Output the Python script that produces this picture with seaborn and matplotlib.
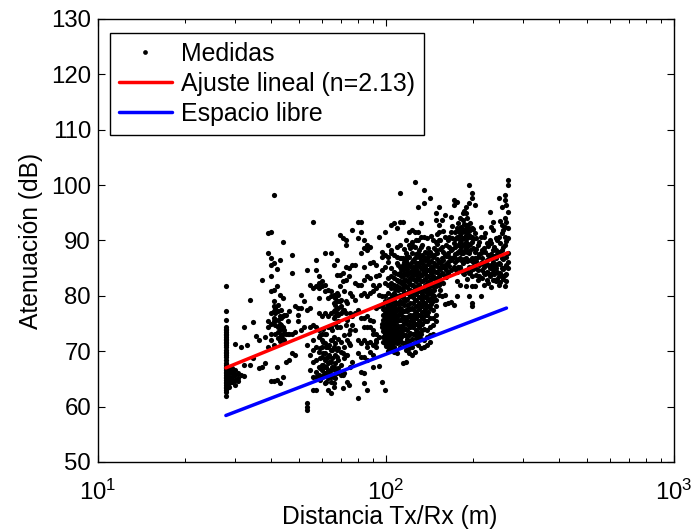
"""Atenuacion frente a distancia Tx/Rx: medidas, ajuste lineal y espacio libre."""

import matplotlib
matplotlib.use("Agg")
import matplotlib.pyplot as plt
import pandas as pd
import seaborn as sns
from matplotlib.lines import Line2D
from matplotlib.ticker import LogLocator, NullFormatter


DIST_LEFT = [27.8, 28.5, 29.2, 29.9, 30.6, 31.3, 32.1, 32.9, 33.7, 34.5, 35.3, 36.2, 37.1, 38.0,
             38.9, 39.8, 40.8, 41.8, 42.8, 43.8, 44.9, 46.0, 47.1, 48.2, 49.4, 50.6, 51.8, 53.1,
             54.4, 55.7, 57.0, 58.4, 59.8, 61.3, 62.8, 64.3, 65.9, 67.5, 69.1, 70.8, 72.5, 74.3,
             76.1, 77.9, 79.8]
ATT_LEFT = [
    [81.7, 77.3, 75.7, 74.4, 74.1, 73.8, 73.5, 73.2, 72.9, 72.6, 72.3, 72.0, 71.7, 71.4, 71.1, 70.8,
     70.2, 69.9, 69.6, 69.3, 69.0, 68.4, 67.8, 67.5, 67.2, 66.9, 66.6, 66.3, 66.0, 65.7, 65.4, 65.1,
     64.8, 64.5, 64.2, 63.9, 63.6, 63.3, 63.0, 62.7, 61.9],
    [67.2, 66.6, 66.0, 65.4, 65.1, 64.5, 64.2, 63.6],
    [66.9, 66.3, 66.0, 65.4, 64.8, 64.5],
    [71.3, 66.6, 65.7, 64.8, 63.9],
    [66.0, 65.1, 64.7],
    [70.8, 65.7],
    [74.4, 67.5, 65.5],
    [71.1],
    [79.3, 67.5],
    [75.2, 68.7],
    [72.8],
    [72.0, 66.9],
    [82.9, 67.2],
    [72.6, 67.8],
    [91.3, 87.7, 75.4, 74.4, 70.8],
    [91.6, 86.8, 85.6, 83.5, 80.8, 76.9, 75.0, 73.2, 72.0, 64.7],
    [98.2, 85.9, 81.1, 79.0, 78.1, 77.2, 76.0, 75.4, 71.1, 64.7],
    [84.8, 81.8, 67.2, 64.8],
    [86.5, 80.2, 76.3, 75.0, 73.8, 72.6, 71.8, 64.2],
    [89.8, 79.6, 76.3, 74.4, 73.2, 72.3, 65.4],
    [76.6, 73.2, 68.1],
    [77.2, 73.2, 68.4],
    [87.4, 84.1, 73.2, 69.6],
    [78.1, 73.5, 69.3],
    [77.8, 76.6, 75.4],
    [80.2, 77.8, 73.8],
    [79.1, 74.4],
    [84.6, 77.5, 71.1, 60.6, 60.0, 59.4],
    [82.0, 77.8, 74.4, 69.3, 66.6],
    [93.4, 81.4, 74.7, 72.0, 70.2, 68.1, 65.4, 63.0],
    [86.5, 84.7, 81.7, 74.4, 70.8, 68.4, 66.3, 65.4, 63.0],
    [83.5, 82.3, 81.4, 79.6, 76.9, 73.8, 72.6, 69.9, 67.2, 65.7],
    [82.6, 81.7, 76.3, 73.2, 72.0, 70.8, 69.0, 67.5, 66.6, 65.4],
    [87.7, 82.0, 80.8, 76.9, 73.2, 71.4, 69.6, 68.4, 67.2, 66.0, 64.2],
    [81.1, 79.6, 76.3, 74.4, 70.8, 69.0, 67.8, 66.6, 65.1, 63.0],
    [87.7, 80.8, 79.9, 76.9, 74.4, 72.0, 70.2, 68.1, 66.6, 65.4, 64.5, 62.4],
    [85.6, 80.2, 78.7, 77.2, 76.0, 72.6, 70.8, 67.2, 65.4, 64.2, 63.6],
    [86.5, 83.8, 80.5, 79.0, 76.9, 74.4, 70.2, 69.0, 66.0],
    [91.0, 83.8, 81.7, 79.0, 74.4],
    [90.4, 84.1, 82.6, 77.5, 69.6, 65.7, 63.3],
    [90.1, 89.2, 85.3, 82.9, 79.0, 76.9, 74.7, 69.3],
    [85.0, 83.5, 73.2, 71.4, 63.9],
    [91.9, 85.6, 79.9, 76.3, 74.7, 68.1],
    [85.6, 82.3, 79.3, 76.9, 73.8],
    [93.4, 90.4, 82.0, 77.5, 72.0, 69.6, 61.5],
]

DIST_MID = [81.8, 83.7, 85.8, 87.9, 90.0, 92.2, 94.4, 96.7, 99.0, 101.4, 103.9, 106.4, 109.0,
            111.7, 114.4, 117.2, 120.0, 122.9, 125.9, 129.0, 132.1, 135.3, 138.6, 142.0, 145.4,
            149.0, 152.6]
ATT_MID = [
    [93.4, 91.6, 87.7, 82.0, 80.2, 76.0, 71.4, 69.0, 66.3],
    [90.1, 88.6, 85.3, 82.9, 80.5, 76.0, 74.4, 72.0, 69.0, 66.0, 64.2],
    [89.2, 88.3, 83.5, 79.9, 76.3, 74.4, 71.4, 70.8, 68.4, 63.0],
    [88.9, 85.9, 83.2, 80.5, 75.7, 74.4, 71.7, 69.9],
    [86.2, 82.0, 80.8, 75.4, 73.8, 73.2, 71.1, 69.3, 67.2],
    [85.6, 83.5, 81.4, 77.8, 73.2, 72.0, 71.7, 70.8],
    [90.7, 83.8, 82.0, 80.2, 78.1, 72.6, 67.4],
    [88.0, 87.1, 84.7, 79.9, 78.4, 75.0, 74.4, 64.5],
    [91.6, 87.4, 85.3, 82.3, 79.9, 79.0, 76.9, 76.0, 75.0, 74.1, 73.2, 72.3, 71.4, 63.0],
    [89.2, 87.1, 86.2, 83.2, 82.0, 80.5, 78.4, 77.2, 76.3, 75.4, 74.4, 73.5, 72.6, 71.7, 71.1, 70.0],
    [92.8, 88.3, 87.7, 85.0, 83.5, 82.3, 81.4, 79.6, 77.8, 76.9, 76.0, 75.0, 74.1, 73.2, 72.3, 71.4,
     70.5],
    [93.1, 87.4, 84.4, 83.2, 82.0, 80.5, 79.0, 78.1, 77.2, 76.3, 75.4, 74.4, 73.5, 72.6, 71.7, 70.8,
     69.9],
    [92.2, 88.9, 87.1, 85.9, 82.9, 81.7, 78.7, 77.5, 76.3, 75.4, 74.4, 73.2, 72.3, 71.4, 69.6],
    [98.5, 93.4, 89.2, 86.8, 85.3, 84.1, 82.6, 81.4, 80.2, 79.0, 77.8, 76.9, 75.7, 74.4, 73.2, 72.0,
     70.8],
    [93.4, 86.8, 85.6, 84.7, 83.5, 82.3, 81.1, 79.9, 78.7, 77.2, 76.0, 74.4, 73.2, 71.4, 67.8],
    [90.1, 87.7, 86.5, 85.3, 84.1, 82.9, 81.7, 79.3, 77.5, 75.7, 74.1, 72.9, 71.7, 70.2, 68.0],
    [91.6, 89.2, 87.1, 85.6, 84.1, 82.6, 81.1, 77.8, 76.3, 74.7, 72.9, 71.7, 70.5, 69.6],
    [91.9, 89.8, 87.7, 86.2, 84.7, 83.5, 82.0, 80.5, 77.8, 76.0, 74.7, 72.3, 70.8, 69.3],
    [100.6, 91.6, 88.9, 86.8, 85.3, 84.1, 82.9, 81.4, 79.3, 77.2, 76.3, 75.0, 73.2, 71.4, 69.9],
    [96.1, 91.6, 90.1, 87.7, 85.9, 84.4, 83.2, 82.0, 80.8, 78.4, 76.6, 74.7, 73.5, 72.6, 71.1],
    [93.1, 90.7, 88.9, 86.5, 85.0, 83.8, 82.6, 81.1, 79.6, 78.1, 76.3, 75.0, 73.2, 72.3, 70.5],
    [99.1, 96.7, 90.7, 87.1, 85.6, 84.4, 82.9, 81.1, 79.9, 78.7, 77.2, 75.7, 74.1, 72.0, 70.8],
    [90.4, 87.7, 86.5, 84.7, 83.5, 82.0, 80.8, 79.6, 78.1, 76.6, 75.4, 73.8, 72.6, 71.1],
    [97.6, 88.0, 86.2, 84.7, 82.9, 81.7, 80.5, 79.0, 77.8, 76.0, 74.4, 72.9, 71.7],
    [90.1, 87.1, 85.3, 83.5, 81.7, 80.2, 79.0, 77.5, 76.0, 74.7, 73.2],
    [93.7, 94.9, 89.8, 88.3, 85.6, 84.4, 82.9, 81.7, 79.3, 78.1, 76.6, 75.4],
    [96.1, 92.8, 91.6, 90.1, 86.2, 85.0, 83.5, 82.0, 80.2],
]

DIST_RIGHT = [156.3, 160.1, 164.0, 168.0, 172.0, 176.2, 180.5, 184.9, 189.4, 194.0, 198.7, 203.6,
              208.5, 213.6, 218.8, 224.1, 229.6, 235.1, 240.9, 246.7, 252.7, 258.9, 265.0]
ATT_RIGHT = [
    [93.7, 88.9, 86.8, 85.6, 84.1, 79.9],
    [94.6, 90.7, 87.4, 85.0, 83.5, 80.2, 78.5],
    [90.1, 87.7, 86.2, 84.1, 78.7],
    [94.3, 91.6, 88.3, 86.5, 84.7, 78.9],
    [97.3, 96.4, 89.5, 87.1, 85.3, 78.3],
    [97.0, 92.2, 90.7, 87.7, 86.5, 84.4, 82.6, 79.9],
    [94.0, 92.2, 91.0, 89.8, 88.3, 86.8, 85.3, 82.0],
    [94.9, 93.7, 91.9, 90.4, 89.2, 87.7, 85.9, 84.1],
    [96.1, 94.9, 92.2, 91.0, 89.8, 88.6, 86.8, 84.7, 81.7],
    [100.0, 96.7, 92.2, 91.0, 89.2, 87.7, 85.3, 84.1, 79.9],
    [98.5, 97.6, 92.2, 90.7, 89.8, 86.8, 85.3, 83.5, 81.7, 78.7, 78.1],
    [96.4, 91.3, 88.0, 86.8, 85.0, 81.7],
    [89.2, 87.1, 84.7, 82.9],
    [92.5, 90.7, 87.7, 85.9, 79.9],
    [90.7, 88.6, 85.3, 84.1, 81.9],
    [89.5, 86.5, 84.4, 82.9],
    [95.2, 90.1, 87.1, 85.0, 83.5],
    [93.4, 91.9, 88.3, 86.2, 84.7, 82.9],
    [90.4, 88.3, 86.8, 85.0, 82.6],
    [97.6, 90.7, 88.0, 85.9, 83.5, 82.0],
    [96.1, 92.8, 91.3, 88.3, 86.8, 85.0, 83.5],
    [98.2, 97.3, 94.0, 92.5, 90.7, 89.2, 85.3, 83.8, 81.7],
    [100.9, 100.0, 95.2, 92.2, 90.4, 87.7, 86.2, 85.0],
]

# denser clusters, read between the columns above
DIST_CLUSTER = [41.3, 42.3, 43.3, 44.4, 45.5, 59.1, 60.5, 62.0, 63.5, 65.1, 66.7, 68.3, 70.0,
                71.7, 73.4, 75.2, 97.8, 100.2, 102.6, 105.1, 107.7, 110.3, 113.0, 115.8, 118.6,
                121.5, 124.4, 127.4, 130.5, 133.7, 137.0, 140.3, 143.7, 147.2, 150.8, 154.5,
                158.2, 162.0, 166.0, 170.0, 174.1, 178.3, 182.7, 187.1, 191.7, 196.3, 201.1,
                206.0, 211.0, 216.2, 221.4, 226.8, 232.3, 238.0, 243.8, 249.7, 255.8, 262.0]
ATT_CLUSTER = [
    [77.8, 76.9, 75.7, 74.7, 73.2],
    [78.4, 77.2, 75.7, 74.4, 73.5, 72.4],
    [77.5, 76.0, 74.7, 72.9],
    [76.6, 73.8, 72.0],
    [75.4, 73.2],
    [72.9, 70.5, 68.7, 66.9, 64.8],
    [74.1, 71.7, 69.6, 67.5, 65.7],
    [73.2, 70.8, 68.7, 67.2, 66.0, 64.5],
    [74.4, 71.1, 69.3, 68.1, 66.3],
    [73.8, 72.0, 70.2, 68.7, 67.2, 65.7],
    [79.6, 78.4, 77.5, 76.3, 75.0, 71.4, 69.3, 67.8, 66.6, 65.1],
    [80.2, 79.0, 77.8, 76.6, 75.4, 72.3, 70.5, 68.4, 66.9],
    [79.3, 78.1, 76.9, 71.7, 69.9, 67.5, 65.7],
    [80.8, 77.5, 72.9, 70.8, 68.7, 66.0],
    [78.7, 75.7, 72.0, 69.3, 64.5],
    [80.5, 76.9, 73.8, 71.1, 67.2],
    [78.6, 77.6, 76.6, 75.6, 74.6, 73.6, 72.6, 71.6],
    [78.9, 77.9, 76.9, 75.9, 74.9, 73.9, 72.9, 71.9, 70.9],
    [79.5, 78.5, 77.4, 76.4, 75.4, 74.4, 73.4, 72.4, 71.4, 70.4],
    [80.1, 79.1, 78.1, 77.1, 76.1, 75.1, 74.1, 73.1, 72.1, 71.1],
    [84.1, 81.3, 80.2, 78.9, 77.8, 76.8, 75.8, 74.8, 73.8, 72.8, 71.8],
    [85.6, 83.9, 82.7, 81.1, 79.9, 78.6, 77.6, 76.6, 75.6, 74.6, 73.6, 72.6, 71.6],
    [86.9, 84.8, 83.6, 82.4, 81.2, 80.0, 78.8, 77.6, 76.6, 75.6, 74.6, 73.6, 72.6, 71.6],
    [88.4, 86.1, 85.0, 83.9, 82.8, 81.7, 80.6, 79.5, 78.4, 77.3, 76.2, 75.1, 74.0, 72.9],
    [87.2, 86.0, 84.9, 83.8, 82.7, 81.6, 80.5, 79.4, 78.3, 77.2, 76.1, 75.0, 73.9, 72.2],
    [88.6, 85.4, 84.3, 83.2, 82.1, 81.0, 79.9, 78.8, 77.7, 76.6, 75.5, 74.4, 73.3],
    [89.0, 86.4, 85.3, 84.2, 83.1, 82.0, 80.9, 79.8, 78.7, 77.6, 76.5, 75.4, 74.3, 73.2],
    [90.0, 87.5, 86.0, 84.8, 83.7, 82.6, 81.5, 80.4, 79.3, 78.2, 77.1, 76.0, 74.9, 73.8, 72.4],
    [88.2, 87.0, 85.4, 84.2, 83.1, 82.0, 80.9, 79.8, 78.7, 77.6, 76.5, 75.4, 74.3, 73.2],
    [89.1, 87.3, 85.9, 84.8, 83.7, 82.6, 81.5, 80.4, 79.3, 78.2, 77.1, 76.0, 74.9, 73.8],
    [87.9, 86.5, 85.3, 84.2, 83.1, 82.0, 80.9, 79.8, 78.7, 77.6, 76.5, 75.4],
    [88.7, 87.1, 85.8, 84.7, 83.6, 82.5, 81.4, 80.3, 79.2, 78.1, 77.0],
    [90.9, 87.6, 86.3, 85.2, 84.1, 83.0, 81.9, 80.8, 79.7, 78.6],
    [88.6, 87.3, 85.9, 84.5, 83.3, 82.2, 81.1, 79.9],
    [91.2, 89.4, 87.8, 86.6, 85.4, 84.3, 83.2, 82.1],
    [90.0, 88.4, 86.2, 84.9, 83.8, 82.6, 81.0],
    [91.8, 88.0, 86.4, 85.2, 84.0, 82.4],
    [89.2, 87.2, 85.8, 84.6, 83.4],
    [90.6, 88.8, 87.0, 85.4],
    [92.6, 90.4, 88.5, 86.9],
    [91.6, 90.2, 88.9, 87.5, 86.1, 84.9],
    [93.2, 91.8, 90.5, 89.2, 87.9, 86.6, 85.3],
    [92.5, 91.3, 90.1, 88.9, 87.7, 86.4, 84.6],
    [95.4, 93.0, 91.7, 90.5, 89.3, 88.1, 86.6, 84.0],
    [94.1, 92.8, 91.6, 90.4, 89.2, 88.0, 86.3, 83.1],
    [93.2, 91.9, 90.6, 89.4, 88.2, 86.4, 84.4],
    [92.0, 90.2, 88.6, 86.2, 84.9],
    [90.4, 88.4, 86.3, 83.8],
    [89.8, 87.5, 85.5, 83.6],
    [88.2, 86.9, 85.9, 84.6, 83.2],
    [91.4, 88.0, 85.8, 83.9],
    [89.0, 87.3, 85.6, 84.2, 82.4],
    [92.4, 89.6, 87.5, 85.5, 83.9, 81.6],
    [88.8, 87.2, 85.4, 84.0, 82.8],
    [90.0, 87.5, 85.8, 84.4, 83.0],
    [93.5, 89.5, 87.4, 85.8, 84.2, 82.5],
    [91.9, 88.9, 86.6, 84.8, 83.0],
    [96.4, 93.3, 89.9, 87.1, 85.5, 84.0, 82.6],
]

FIT_DIST = [27.8, 265.0]
FIT_ATT = [67.0, 87.8]
FREE_DIST = [27.8, 262.0]
FREE_ATT = [58.4, 77.8]

X_TICKS = [10, 100, 1000]
X_LABELS = ["$10^{1}$", "$10^{2}$", "$10^{3}$"]
Y_TICKS = [50, 60, 70, 80, 90, 100, 110, 120, 130]


rows = []
for dists, atts in [(DIST_LEFT, ATT_LEFT), (DIST_MID, ATT_MID), (DIST_RIGHT, ATT_RIGHT),
                    (DIST_CLUSTER, ATT_CLUSTER)]:
    for d, col in zip(dists, atts):
        rows.extend({"dist": d, "att": a} for a in col)
df = pd.DataFrame(rows)

sns.set_style("ticks")
plt.rcParams["font.family"] = ["Liberation Sans", "DejaVu Sans"]
plt.rcParams["mathtext.default"] = "regular"
plt.rcParams["text.color"] = "black"
plt.rcParams["axes.labelcolor"] = "black"

fig = plt.figure(figsize=(6.91, 5.30), dpi=100)
ax = fig.add_axes([98 / 691, 1 - 462 / 530, 576 / 691, 443 / 530])

sns.scatterplot(data=df, x="dist", y="att", color="black", s=14, linewidth=0, ax=ax, zorder=2)
sns.lineplot(x=FIT_DIST, y=FIT_ATT, color="#ff0000", linewidth=2.5, ax=ax, zorder=3)
sns.lineplot(x=FREE_DIST, y=FREE_ATT, color="#0000ff", linewidth=2.5, ax=ax, zorder=3)

ax.set_xscale("log")
ax.set_xlim(10, 1000)
ax.set_ylim(50, 130)
ax.set_xticks(X_TICKS)
ax.set_xticklabels(X_LABELS)
ax.xaxis.set_minor_locator(LogLocator(base=10, subs=range(2, 10)))
ax.xaxis.set_minor_formatter(NullFormatter())
ax.set_yticks(Y_TICKS)
ax.tick_params(axis="both", which="major", direction="in", length=4.8, width=0.8,
               top=True, right=True, labelsize=17.3, colors="black", pad=5)
ax.tick_params(axis="x", which="major", pad=12.5)
ax.tick_params(axis="x", which="minor", direction="in", length=2.6, width=0.7, top=True,
               color="black")
ax.set_xlabel("Distancia Tx/Rx (m)", fontsize=17.7, x=0.506, labelpad=0)
ax.set_ylabel("Atenuación (dB)", fontsize=17.7, labelpad=6)
for s in ax.spines.values():
    s.set_visible(True)
    s.set_linewidth(1.0)
    s.set_color("black")

handles = [
    Line2D([], [], marker="o", linestyle="none", color="black", markersize=3.4, markeredgewidth=0),
    Line2D([], [], color="#ff0000", linewidth=2.5),
    Line2D([], [], color="#0000ff", linewidth=2.5),
]
leg = ax.legend(handles, ["Medidas", "Ajuste lineal (n=2.13)", "Espacio libre"],
                loc="upper left", bbox_to_anchor=(12 / 576, 1 - 14 / 443), borderaxespad=0,
                fontsize=17.9, fancybox=False, framealpha=1, edgecolor="black",
                handlelength=2.15, handletextpad=0.35, labelspacing=0.25, borderpad=0.35)
leg.get_frame().set_linewidth(1.0)

fig.savefig("out.png", dpi=100)
